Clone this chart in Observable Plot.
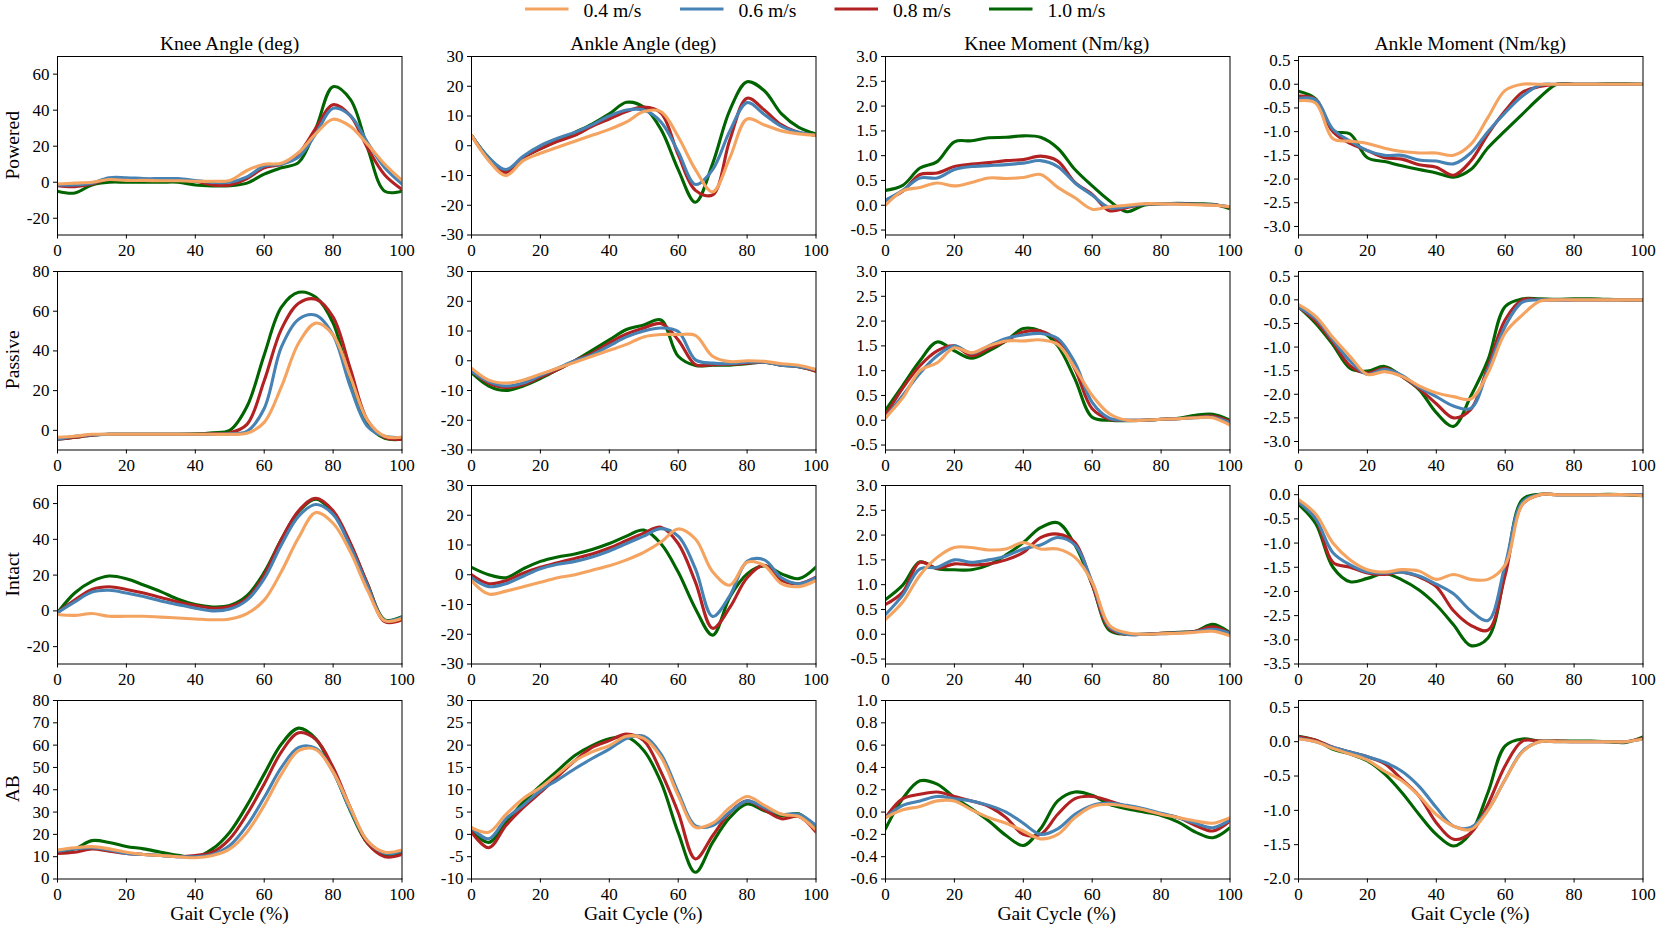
<!DOCTYPE html>
<html><head><meta charset="utf-8">
<script src="https://cdn.jsdelivr.net/npm/d3@7"></script>
<script src="https://cdn.jsdelivr.net/npm/@observablehq/plot@0.6"></script>
<style>
body{margin:0;background:#fff;}
#fig{position:relative;width:1660px;height:930px;overflow:hidden;background:#fff;font-family:"Liberation Serif","Times New Roman",serif;}
#fig svg{position:absolute;}
#fig svg, #fig svg text{font-family:"Liberation Serif","Times New Roman",serif !important;}
</style></head><body><div id="fig"></div>
<script>
// ---------- data ----------
const gait = [0,5,10,15,20,25,30,35,40,45,50,55,60,65,70,75,80,85,90,95,100];
const speeds = ["0.4 m/s","0.6 m/s","0.8 m/s","1.0 m/s"];
const colors = ["#F4A460","#4682B4","#B22222","#006400"];
const rowNames = ["Powered","Passive","Intact","AB"];
const colTitles = ["Knee Angle (deg)","Ankle Angle (deg)","Knee Moment (Nm/kg)","Ankle Moment (Nm/kg)"];
const xTicks = [0,20,40,60,80,100];

// each panel: [0.4, 0.6, 0.8, 1.0] series sampled at gait
const poweredKneeAngle = [
 [-1,-0.5,0,1.5,1,1,0.8,0.8,0.5,0.5,1,6.5,10,10.5,16.5,27,35,31,21,10,1],
 [-1.5,-1.5,-0.5,2.5,2.5,2,2,2,1,0,0,3,9,10,14,27,41,37,22,8,-1],
 [-2,-2.5,-1,2,1.5,1,1,1,0.5,-1.5,-1.5,2,8,10,16,30,43,37,19,4,-4],
 [-5,-6,-1.5,0,0,0,0,0,-1.5,-2,-2,-0.5,4.5,8,11,30,53,46,19,-5,-5]];
const poweredAnkleAngle = [
 [3.5,-5,-10,-5,-2.5,-0.5,1.5,3.5,5.5,8,11.5,11.5,3,-8,-15.5,-4,9,7,5,4,3.5],
 [3.5,-4,-8,-3.5,0,2.5,4.5,7,10,12,12,8,-2,-13,-8,5,14.5,10.5,6.5,4.5,3.5],
 [3.5,-4.5,-9,-4,-1,1.5,3.5,6.5,9,11.5,13,11,-3,-15,-16.5,2,16,12,7,4.5,3.5],
 [3.5,-4,-8.5,-4,-1,1.7,4.5,7.3,10.7,14.6,13,5.5,-8,-19,-6,12,21.5,18.5,10.7,6.2,4]];
const poweredKneeMoment = [
 [0,0.29,0.36,0.45,0.39,0.46,0.55,0.54,0.56,0.62,0.36,0.15,-0.08,-0.03,0,0.03,0.03,0.02,0.01,0,-0.03],
 [0.1,0.3,0.55,0.55,0.72,0.78,0.8,0.82,0.85,0.9,0.78,0.45,0.2,-0.05,-0.03,0.02,0.03,0.03,0.02,0.01,-0.03],
 [0.1,0.28,0.62,0.65,0.78,0.83,0.86,0.9,0.92,0.99,0.89,0.46,0.22,-0.11,-0.05,0.02,0.03,0.03,0.02,0.01,-0.04],
 [0.3,0.4,0.75,0.88,1.28,1.3,1.36,1.37,1.4,1.37,1.15,0.72,0.39,0.09,-0.13,0,0.03,0.04,0.03,0.02,-0.07]];
const poweredAnkleMoment = [
 [-0.35,-0.4,-1.15,-1.2,-1.25,-1.35,-1.42,-1.45,-1.45,-1.5,-1.27,-0.7,-0.13,0,0,0,0,0,0,0,0],
 [-0.3,-0.33,-0.95,-1.2,-1.4,-1.5,-1.5,-1.6,-1.62,-1.68,-1.45,-1.0,-0.6,-0.25,-0.02,0,0,0,0,0,0],
 [-0.25,-0.32,-1.0,-1.25,-1.4,-1.55,-1.58,-1.7,-1.75,-1.92,-1.62,-1.05,-0.56,-0.17,-0.05,0,0,0,0,0,0],
 [-0.15,-0.31,-0.98,-1.05,-1.55,-1.63,-1.72,-1.8,-1.87,-1.96,-1.8,-1.34,-0.98,-0.63,-0.28,0,0,0,0.01,0.01,0]];
const passiveKneeAngle = [
 [-3.5,-3,-2,-2,-2,-2,-2,-2,-2,-2,-2,-1.5,4,22,44,54,48,27,5,-3,-3.5],
 [-4.5,-3,-2.2,-2,-2,-2,-2,-2,-2,-2,-1.8,-0.5,11,42,56,58,48,22,2,-3,-3.5],
 [-4.5,-3.5,-2.5,-2,-2,-2,-2,-2,-2,-1.8,-1.3,3,25,51,64,66,57,31,5,-3.5,-4.5],
 [-4.5,-3.5,-2.5,-2,-2,-2,-2,-2,-1.8,-1.2,0,12,38,62,69.5,67,54,25,3,-4,-4.5]];
const passiveAnkleAngle = [
 [-2.5,-6.5,-7.5,-6.5,-4.5,-2.5,-0.5,1.5,3.5,5.5,8,8.8,8.8,8.5,1.5,-0.3,0,-0.2,-1,-1.5,-3],
 [-3.5,-7,-8.5,-7.5,-5,-2.5,0,2,5,8,10,11,9.8,0.3,-0.8,-1,-0.5,-0.5,-1.5,-2,-3],
 [-3.5,-7.5,-9,-8,-5.5,-3,0,2.5,6,9,11,12.5,7,-1.3,-1.3,-1.2,-0.8,-0.5,-1.5,-2,-3.5],
 [-4,-8.5,-10,-8.5,-6,-3,0,3.5,7,10.5,12,13.7,1.5,-1.6,-1.5,-1.5,-1,-0.5,-1.5,-2,-3.5]];
const passiveKneeMoment = [
 [0.05,0.45,1.0,1.16,1.46,1.36,1.5,1.6,1.6,1.62,1.53,1.05,0.5,0.13,0,0,0.02,0.03,0.05,0.05,-0.1],
 [0.05,0.5,0.95,1.3,1.5,1.35,1.5,1.65,1.72,1.75,1.65,1.16,0.36,0.04,0,0,0.02,0.03,0.05,0.06,-0.05],
 [0.1,0.65,1.1,1.4,1.5,1.3,1.45,1.6,1.78,1.8,1.6,1.03,0.23,0.02,0,0,0.02,0.03,0.06,0.08,-0.02],
 [0.2,0.7,1.2,1.58,1.4,1.25,1.4,1.6,1.85,1.8,1.5,0.83,0.06,0,-0.01,0,0.02,0.04,0.1,0.12,0]];
const passiveAnkleMoment = [
 [-0.1,-0.35,-0.8,-1.2,-1.58,-1.52,-1.62,-1.82,-1.97,-2.05,-2.1,-1.55,-0.7,-0.32,-0.03,0,0,0,0,0,0],
 [-0.15,-0.4,-0.85,-1.3,-1.58,-1.47,-1.6,-1.85,-2.05,-2.25,-2.3,-1.48,-0.56,-0.05,0,0,0,0,0,0,0],
 [-0.15,-0.45,-0.9,-1.4,-1.55,-1.45,-1.62,-1.88,-2.2,-2.5,-2.32,-1.41,-0.42,0,0,0,0,0,0,0,0],
 [-0.15,-0.5,-0.95,-1.45,-1.51,-1.41,-1.62,-1.9,-2.39,-2.68,-2.04,-1.27,-0.14,0.02,0.02,0.01,0.02,0.02,0.01,0,0]];
const intactKneeAngle = [
 [-2,-2.5,-1.5,-3,-3,-3,-3.5,-4,-4.5,-5,-4.5,-1.5,6,22,41,55,49,33,11.5,-5.5,-4.2],
 [-1,5,10.5,11.5,10,8,5.5,3.5,1.5,0,1,6,18,37,53,59.5,54,36,14,-5.5,-3.5],
 [-1,6,12,13.5,12,10,7.5,5,3,1.5,2.5,7,20,40,56,63,56,38,15,-6,-5],
 [-1,10,16.5,19.5,18,14.5,10.8,6.5,3.5,2.2,3,8.5,21.5,40,55.5,62.5,55,37.5,15,-5,-3.3]];
const intactAnkleAngle = [
 [-2,-6.5,-5.5,-4,-2.5,-1,0,1.5,3,5,7.5,11,15.4,12,1,-3.5,4.2,3.1,-3,-4,-1.9],
 [-1,-4,-3,-0.5,2,3.5,4.5,6,8,10.5,13,15.5,13,2,-14,-7,4.5,5,-1,-3,-1],
 [0,-3,-2,0.5,2.5,4,5.5,7,9,11.5,14,16,10.5,-2.5,-18,-11,-1,3.2,-1.9,-3,-0.8],
 [2.5,0,-1,2,4.5,6,7,8.5,10.5,13,15,10.4,0.9,-11.4,-20.3,-7.5,0.3,3,0.3,-1.3,2.6]];
const intactKneeMoment = [
 [0.3,0.65,1.19,1.55,1.75,1.75,1.7,1.72,1.85,1.72,1.72,1.55,1.05,0.18,0.03,0,0.01,0.02,0.04,0.06,-0.03],
 [0.4,0.79,1.32,1.35,1.5,1.45,1.5,1.58,1.72,1.8,1.95,1.8,1.05,0.15,0,0,0.01,0.03,0.05,0.1,0.02],
 [0.6,0.85,1.45,1.33,1.42,1.4,1.42,1.5,1.65,1.95,2.02,1.85,1.0,0.12,0,0,0.02,0.03,0.06,0.15,0.02],
 [0.7,0.99,1.46,1.32,1.3,1.3,1.4,1.6,1.85,2.15,2.25,1.8,1.0,0.08,0,0,0.02,0.04,0.06,0.2,0.03]];
const intactAnkleMoment = [
 [-0.1,-0.4,-1.0,-1.35,-1.55,-1.6,-1.55,-1.58,-1.75,-1.65,-1.75,-1.75,-1.45,-0.2,0,0,0,0,0,0,-0.02],
 [-0.15,-0.5,-1.2,-1.45,-1.6,-1.62,-1.6,-1.68,-1.85,-2.05,-2.4,-2.6,-1.45,-0.15,0,0,0,0,0,0,0],
 [-0.15,-0.5,-1.4,-1.5,-1.62,-1.65,-1.6,-1.7,-1.9,-2.4,-2.7,-2.8,-1.66,-0.2,0,0,0,0,0,0,0],
 [-0.2,-0.6,-1.5,-1.8,-1.73,-1.63,-1.76,-1.97,-2.28,-2.69,-3.12,-2.96,-1.6,-0.1,0.01,0,0,0,0.01,0,-0.02]];
const abKneeAngle = [
 [13,14,14.5,13.5,12,11,10.5,10,9.5,10.5,13.5,21,33,47,57.5,58,48,32,17,12,13],
 [12.5,13.5,14,13,11.5,11,10.5,10,10,11,15,24,36.5,50,59,58.5,48,31,17,11.5,12.5],
 [11.5,12,13.5,12.5,11.5,11,10.5,10,10.5,12,18,29,42.6,57,65.5,62.5,50,32,16,10,11],
 [12,13.5,17.2,16.4,14.6,13.5,12,10.6,9.7,13.5,21,33,47,60.5,67.6,62.8,48.6,30.6,16,10.5,12]];
const abAnkleAngle = [
 [1.5,0.5,4.5,8,10.5,13.5,16.5,18.5,19.9,22,21.5,17.3,8.7,1.6,2.5,6,8.5,6.5,4.5,4,1],
 [1.5,-1,3.5,6.5,9.8,12.2,14.7,17,19.1,21.5,22,18,9.4,1.9,2,5,7.5,6,4.5,4.5,2],
 [0.5,-3,2,6,9.4,13,16.5,19.5,21,22.5,21,14,4.9,-5.5,-0.3,4.9,7.5,5.5,3.5,4,0.5],
 [1,-1.8,2.7,7.2,10.9,14.3,17.7,19.9,21.4,21.8,18.8,11.7,0.4,-8.5,-1.8,3.8,6.8,5.3,4.2,4.6,1.2]];
const abKneeMoment = [
 [-0.05,0.02,0.05,0.1,0.1,0.02,-0.05,-0.1,-0.17,-0.24,-0.2,-0.05,0.05,0.07,0.05,0.02,-0.02,-0.05,-0.08,-0.1,-0.05],
 [-0.05,0.06,0.1,0.14,0.12,0.1,0.06,0,-0.1,-0.2,-0.15,-0.02,0.06,0.08,0.06,0.03,-0.01,-0.05,-0.1,-0.14,-0.07],
 [-0.05,0.12,0.16,0.18,0.14,0.1,0.05,-0.05,-0.2,-0.2,-0.02,0.12,0.14,0.1,0.05,0.02,-0.02,-0.05,-0.12,-0.17,-0.08],
 [-0.15,0.12,0.28,0.25,0.13,0.03,-0.08,-0.21,-0.3,-0.15,0.1,0.18,0.15,0.07,0.03,0,-0.03,-0.09,-0.18,-0.23,-0.14]];
const abAnkleMoment = [
 [0.04,0,-0.1,-0.18,-0.27,-0.43,-0.57,-0.79,-1.06,-1.23,-1.28,-1.0,-0.55,-0.15,0,0,0,0,0,0,0.04],
 [0.05,0,-0.08,-0.15,-0.22,-0.3,-0.43,-0.65,-0.96,-1.23,-1.25,-0.99,-0.55,-0.14,0,0,0,0,0,0,0.04],
 [0.07,0.02,-0.08,-0.15,-0.22,-0.32,-0.55,-0.79,-1.18,-1.42,-1.33,-0.91,-0.35,0.01,0.01,0.01,0,0,0,0,0.05],
 [0.08,0.02,-0.11,-0.18,-0.28,-0.47,-0.74,-1.06,-1.35,-1.52,-1.33,-0.74,-0.06,0.04,0.01,0.01,0.01,0.01,0,-0.01,0.07]];

// y-axis domains and tick labels (row-major: Powered, Passive, Intact, AB)
const yDomains = [
 [[-29.3,69.8],[-30,30],[-0.6,3.0],[-3.18,0.585]],
 [[-9.9,80],[-30,30],[-0.6,3.0],[-3.18,0.6]],
 [[-29.7,70.1],[-30,30],[-0.6,3.0],[-3.5,0.19]],
 [[0,80],[-10,30],[-0.6,1.0],[-2.0,0.6]]];
const yTicks = [
 [[-20,0,20,40,60],[-30,-20,-10,0,10,20,30],[-0.5,0,0.5,1,1.5,2,2.5,3],[-3,-2.5,-2,-1.5,-1,-0.5,0,0.5]],
 [[0,20,40,60,80],[-30,-20,-10,0,10,20,30],[-0.5,0,0.5,1,1.5,2,2.5,3],[-3,-2.5,-2,-1.5,-1,-0.5,0,0.5]],
 [[-20,0,20,40,60],[-30,-20,-10,0,10,20,30],[-0.5,0,0.5,1,1.5,2,2.5,3],[-3.5,-3,-2.5,-2,-1.5,-1,-0.5,0]],
 [[0,10,20,30,40,50,60,70,80],[-10,-5,0,5,10,15,20,25,30],[-0.6,-0.4,-0.2,0,0.2,0.4,0.6,0.8,1.0],[-2,-1.5,-1,-0.5,0,0.5]]];
const tickDecimals = [0,0,1,1];

const panels = [
 [poweredKneeAngle, poweredAnkleAngle, poweredKneeMoment, poweredAnkleMoment],
 [passiveKneeAngle, passiveAnkleAngle, passiveKneeMoment, passiveAnkleMoment],
 [intactKneeAngle, intactAnkleAngle, intactKneeMoment, intactAnkleMoment],
 [abKneeAngle, abAnkleAngle, abKneeMoment, abAnkleMoment]];

// ---------- layout ----------
const W = 1660, H = 930;
const colLeft = [57.3, 471, 884.5, 1298];
const rowTop = [56, 270.5, 485, 699.5];
const pw = 344.5, ph = 178.5;
const mL = 54, mR = 6, mT = 6, mB = 32;
const font = '"Liberation Serif","Times New Roman",serif';
const fig = document.getElementById("fig");

function fmt(dec) {
  return v => {
    const s = Math.abs(v).toFixed(dec);
    return (v < 0 && Number(s) !== 0 ? "-" : "") + s;
  };
}

panels.forEach((row, ri) => {
  row.forEach((series, ci) => {
    const drawOrder = [3, 2, 1, 0];
    const lines = drawOrder.map(si => {
      const pts = gait.map((x, k) => ({x, y: series[si][k], speed: speeds[si]}));
      return Plot.line(pts, {x: "x", y: "y", stroke: colors[si], strokeWidth: 3.1,
        curve: "catmull-rom", clip: true});
    });
    const chart = Plot.plot({
      width: pw + mL + mR, height: ph + mT + mB,
      marginLeft: mL, marginRight: mR, marginTop: mT, marginBottom: mB,
      style: {fontFamily: font, fontSize: "17px", color: "black", background: "transparent", overflow: "visible"},
      x: {domain: [0, 100]},
      y: {domain: yDomains[ri][ci]},
      marks: [
        ...lines,
        Plot.frame({stroke: "black", strokeWidth: 1}),
        Plot.axisX({ticks: xTicks, tickSize: 4, tickPadding: 5, tickFormat: d => String(d), label: null, fontSize: 17, stroke: "black"}),
        Plot.axisY({ticks: yTicks[ri][ci], tickSize: 4, tickPadding: 4, tickFormat: fmt(tickDecimals[ci]), label: null, fontSize: 17, stroke: "black"})
      ]
    });
    chart.style.left = (colLeft[ci] - mL) + "px";
    chart.style.top = (rowTop[ri] - mT) + "px";
    chart.style.fontFamily = font;
    chart.querySelectorAll("text").forEach(t => t.setAttribute("font-family", font));
    fig.appendChild(chart);
  });
});

// ---------- text overlay: titles, row labels, x labels, legend ----------
const svg = d3.select(fig).append("svg")
  .attr("width", W).attr("height", H)
  .style("left", "0px").style("top", "0px").style("pointer-events", "none")
  .style("font-family", font);

colTitles.forEach((t, ci) => {
  svg.append("text").attr("x", colLeft[ci] + pw / 2).attr("y", 49.5)
    .attr("text-anchor", "middle").attr("font-size", 19.6).attr("fill", "black").text(t);
  svg.append("text").attr("x", colLeft[ci] + pw / 2).attr("y", 919.5)
    .attr("text-anchor", "middle").attr("font-size", 19.6).attr("fill", "black").text("Gait Cycle (%)");
});
rowNames.forEach((t, ri) => {
  svg.append("text").attr("transform", `translate(18.5,${rowTop[ri] + ph / 2}) rotate(-90)`)
    .attr("text-anchor", "middle").attr("font-size", 19.6).attr("fill", "black").text(t);
});
const legendX = [525, 680, 834.5, 989];
speeds.forEach((s, i) => {
  svg.append("line").attr("x1", legendX[i]).attr("x2", legendX[i] + 43.5)
    .attr("y1", 9).attr("y2", 9).attr("stroke", colors[i]).attr("stroke-width", 2.8);
  svg.append("text").attr("x", legendX[i] + 58.5).attr("y", 16.7)
    .attr("font-size", 19.7).attr("fill", "black").text(s);
});
</script>
</body></html>
